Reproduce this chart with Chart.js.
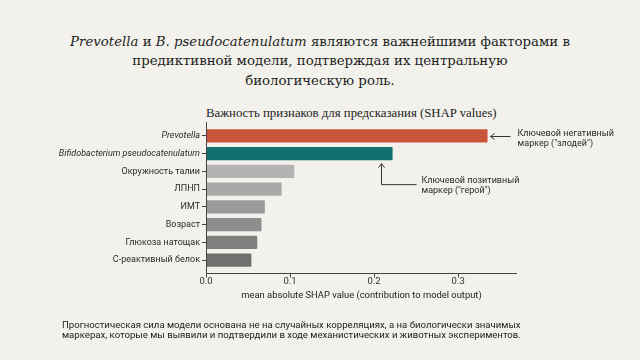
<!DOCTYPE html>
<html lang="ru">
<head>
    <meta charset="UTF-8">
    <title>SHAP</title>
    <script src="https://cdn.jsdelivr.net/npm/chart.js"></script>
    <style>
        html, body {
            margin: 0;
            padding: 0;
            width: 640px;
            height: 360px;
            background: #f2f1ec;
            overflow: hidden;
        }
        .wrap {
            position: relative;
            width: 640px;
            height: 360px;
        }
        .heading {
            position: absolute;
            left: 0;
            top: 32px;
            width: 640px;
            text-align: center;
            font-family: "DejaVu Serif", serif;
            font-size: 13.3px;
            line-height: 19.3px;
            color: #1e1e1e;
        }
        .chart-title {
            position: absolute;
            left: 206px;
            top: 106px;
            font-family: "Liberation Serif", serif;
            font-size: 12.8px;
            line-height: 15px;
            color: #222;
            white-space: nowrap;
        }
        .caption {
            position: absolute;
            left: 62px;
            top: 319.5px;
            font-family: Roboto, sans-serif;
            font-size: 9.6px;
            line-height: 10.7px;
            color: #222;
            white-space: nowrap;
        }
        canvas {
            position: absolute;
            left: 0;
            top: 0;
        }
    </style>
</head>
<body>
<div class="wrap">
    <div class="heading">
        <i>Prevotella</i> и <i>B. pseudocatenulatum</i> являются важнейшими факторами в<br>
        предиктивной модели, подтверждая их центральную<br>
        биологическую роль.
    </div>
    <div class="chart-title">Важность признаков для предсказания (SHAP values)</div>
    <canvas id="shapChart" width="640" height="360"></canvas>
    <div class="caption">
        Прогностическая сила модели основана не на случайных корреляциях, а на биологически значимых<br>
        маркерах, которые мы выявили и подтвердили в ходе механистических и животных экспериментов.
    </div>
</div>

<script>
    // данные
    const features = [
        'Prevotella',
        'Bifidobacterium pseudocatenulatum',
        'Окружность талии',
        'ЛПНП',
        'ИМТ',
        'Возраст',
        'Глюкоза натощак',
        'С-реактивный белок'
    ];
    const shapValues = [0.335, 0.222, 0.105, 0.090, 0.070, 0.066, 0.061, 0.054];
    const barColors = ['#c9553b', '#136f70', '#b3b3b3', '#a9a9a9', '#9a9a9a', '#8d8d8d', '#7f7f7f', '#707070'];
    const italicFeatures = ['Prevotella', 'Bifidobacterium pseudocatenulatum'];
    const xTicks = [0, 0.1, 0.2, 0.3];
    const xTitle = 'mean absolute SHAP value (contribution to model output)';
    const villainNote = ['Ключевой негативный', 'маркер ("злодей")'];
    const heroNote = ['Ключевой позитивный', 'маркер ("герой")'];

    const axisColor = '#444';
    const sansFont = 'Roboto, sans-serif';

    // оси рисуем сами, чтобы они выходили чуть за область графика
    const axisLines = {
        id: 'axisLines',
        afterDatasetsDraw(chart) {
            const { ctx, chartArea, scales } = chart;
            const x0 = chartArea.left + 0.5;
            const yBottom = chartArea.bottom + 4.5;
            ctx.save();
            ctx.strokeStyle = axisColor;
            ctx.lineWidth = 1;
            ctx.beginPath();
            ctx.moveTo(x0, chartArea.top - 5);
            ctx.lineTo(x0, yBottom);
            ctx.lineTo(chartArea.right, yBottom);
            xTicks.forEach(v => {
                const px = Math.round(scales.x.getPixelForValue(v)) + 0.5;
                ctx.moveTo(px, yBottom);
                ctx.lineTo(px, yBottom + 4);
            });
            ctx.stroke();
            ctx.restore();
        }
    };

    // подписи со стрелками
    const notes = {
        id: 'notes',
        afterDatasetsDraw(chart) {
            const { ctx, scales } = chart;
            const x = scales.x, y = scales.y;
            ctx.save();
            ctx.strokeStyle = '#333';
            ctx.fillStyle = '#2a2a2a';
            ctx.lineWidth = 1;
            ctx.font = '9px ' + sansFont;
            ctx.textBaseline = 'middle';

            // злодей
            const vy = Math.round(y.getPixelForValue(0)) + 0.5;
            const vTip = x.getPixelForValue(shapValues[0]) + 3;
            ctx.beginPath();
            ctx.moveTo(vTip, vy);
            ctx.lineTo(vTip + 20, vy);
            ctx.moveTo(vTip + 4, vy - 3);
            ctx.lineTo(vTip, vy);
            ctx.lineTo(vTip + 4, vy + 3);
            ctx.stroke();
            ctx.fillText(villainNote[0], vTip + 27, vy - 3);
            ctx.fillText(villainNote[1], vTip + 27, vy + 7.5);

            // герой
            const hx = Math.round(x.getPixelForValue(shapValues[1])) - 11.5;
            const hTop = y.getPixelForValue(1) + 10;
            const hBend = hTop + 21;
            ctx.beginPath();
            ctx.moveTo(hx, hTop);
            ctx.lineTo(hx, hBend);
            ctx.lineTo(hx + 35, hBend);
            ctx.moveTo(hx - 3, hTop + 4);
            ctx.lineTo(hx, hTop);
            ctx.lineTo(hx + 3, hTop + 4);
            ctx.stroke();
            ctx.fillText(heroNote[0], hx + 40, hBend - 4);
            ctx.fillText(heroNote[1], hx + 40, hBend + 6.5);
            ctx.restore();
        }
    };

    new Chart(document.getElementById('shapChart'), {
        type: 'bar',
        data: {
            labels: features,
            datasets: [{
                data: shapValues,
                backgroundColor: barColors,
                barPercentage: 0.74,
                categoryPercentage: 1.0,
                borderRadius: 1
            }]
        },
        options: {
            indexAxis: 'y',
            responsive: false,
            animation: false,
            layout: {
                padding: { left: 0, right: 123, top: 127, bottom: 59 }
            },
            plugins: {
                legend: { display: false },
                tooltip: { enabled: false }
            },
            scales: {
                x: {
                    min: 0,
                    max: 0.37,
                    afterFit(scale) { scale.height = 32; },
                    afterBuildTicks(scale) { scale.ticks = xTicks.map(v => ({ value: v })); },
                    border: { display: false },
                    grid: { display: false, drawTicks: false },
                    ticks: {
                        padding: 7,
                        color: '#333',
                        font: { family: sansFont, size: 9.5 },
                        callback: v => v.toFixed(1)
                    },
                    title: {
                        display: true,
                        text: xTitle,
                        color: '#222',
                        font: { family: sansFont, size: 9.4 },
                        padding: 0
                    }
                },
                y: {
                    afterFit(scale) { scale.width = 206; },
                    border: { display: false },
                    grid: {
                        drawOnChartArea: false,
                        drawTicks: true,
                        tickLength: 4,
                        offset: false,
                        color: axisColor
                    },
                    ticks: {
                        padding: 2,
                        color: '#2a2a2a',
                        font: ctx => ({
                            family: sansFont,
                            size: 9,
                            style: italicFeatures.includes(features[ctx.index]) ? 'italic' : 'normal'
                        })
                    }
                }
            }
        },
        plugins: [axisLines, notes]
    });
</script>
</body>
</html>
